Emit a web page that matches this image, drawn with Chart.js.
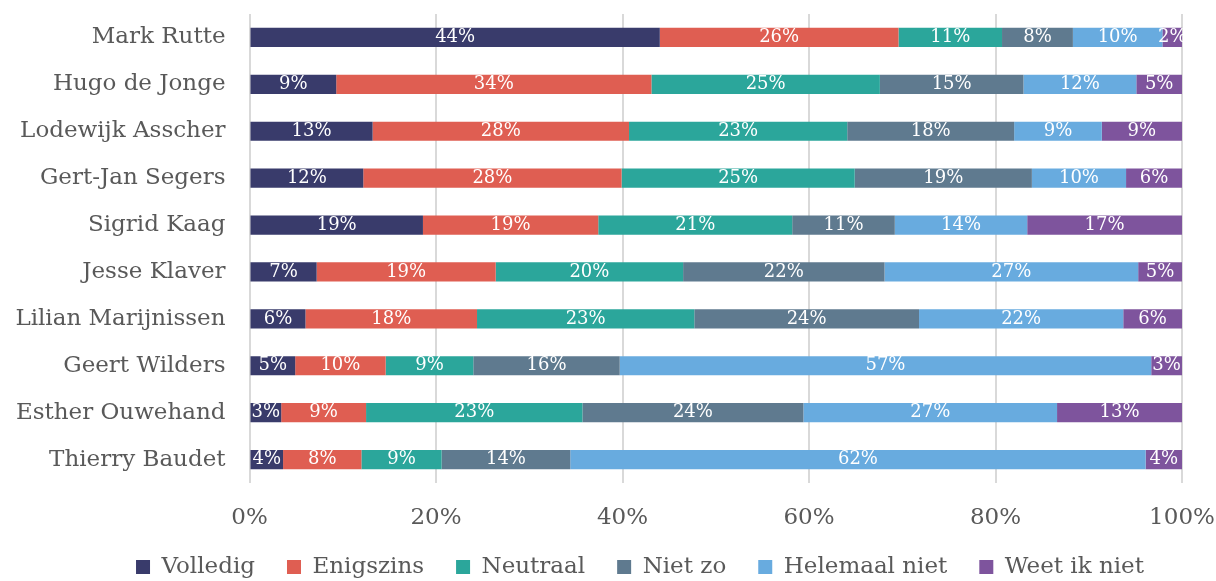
<!DOCTYPE html>
<html>
<head>
<meta charset="utf-8">
<script src="https://cdn.jsdelivr.net/npm/chart.js@4"></script>
<style>
  html, body { margin: 0; padding: 0; background: #ffffff; }
  #wrap { width: 1216px; height: 581px; position: relative; }
</style>
</head>
<body>
<div id="wrap"><canvas id="c" width="1216" height="581"></canvas></div>
<script>
const categories = ['Mark Rutte', 'Hugo de Jonge', 'Lodewijk Asscher', 'Gert-Jan Segers', 'Sigrid Kaag',
  'Jesse Klaver', 'Lilian Marijnissen', 'Geert Wilders', 'Esther Ouwehand', 'Thierry Baudet'];
const seriesNames = ['Volledig', 'Enigszins', 'Neutraal', 'Niet zo', 'Helemaal niet', 'Weet ik niet'];
const volledig     = [44.0,  9.3, 13.2, 12.2, 18.6,  7.2,  6.0,  4.9,  3.4,  3.6];
const enigszins    = [25.6, 33.8, 27.5, 27.7, 18.8, 19.2, 18.4,  9.7,  9.1,  8.4];
const neutraal     = [11.1, 24.5, 23.4, 25.0, 20.8, 20.1, 23.3,  9.4, 23.2,  8.6];
const nietZo       = [ 7.6, 15.4, 17.9, 19.0, 11.0, 21.6, 24.1, 15.7, 23.7, 13.8];
const helemaalNiet = [ 9.6, 12.1,  9.4, 10.1, 14.2, 27.2, 21.9, 57.0, 27.2, 61.7];
const weetIkNiet   = [ 2.1,  4.9,  8.6,  6.0, 16.6,  4.7,  6.3,  3.3, 13.4,  3.9];
const xTicks = [0, 20, 40, 60, 80, 100];

const colors = ['#393b6b', '#df5e52', '#2ba69b', '#5f7a8f', '#68abdf', '#7e549d'];
const seriesData = [volledig, enigszins, neutraal, nietZo, helemaalNiet, weetIkNiet];

const FONT = "'DejaVu Serif', serif";
const GREY = '#595959';
const LEGEND_PAD = 32;
const LEGEND_FONT = 23;

const valueLabels = {
  id: 'valueLabels',
  beforeDraw(chart) {
    // place the legend row so its items sit near the bottom edge, like the reference
    const lg = chart.legend;
    if (lg) {
      const top = 567 - LEGEND_PAD - LEGEND_FONT / 2;
      const h = lg.height;
      lg.top = top;
      lg.bottom = top + h;
      lg.left = 32;
      lg.right = chart.width + 32;
    }
  },
  afterDatasetsDraw(chart) {
    const ctx = chart.ctx;
    ctx.save();
    ctx.fillStyle = '#ffffff';
    ctx.font = "18px " + FONT;
    ctx.textAlign = 'center';
    ctx.textBaseline = 'middle';
    chart.data.datasets.forEach((ds, i) => {
      const meta = chart.getDatasetMeta(i);
      meta.data.forEach((el, j) => {
        const v = ds.data[j];
        const cx = (el.x + el.base) / 2;
        ctx.fillText(Math.round(v) + '%', cx, el.y);
      });
    });
    ctx.restore();
  }
};

new Chart(document.getElementById('c'), {
  type: 'bar',
  data: {
    labels: categories,
    datasets: seriesNames.map((name, i) => ({
      label: name,
      data: seriesData[i],
      backgroundColor: colors[i],
      borderWidth: 0,
      barPercentage: 0.41,
      categoryPercentage: 1.0
    }))
  },
  options: {
    indexAxis: 'y',
    responsive: false,
    animation: false,
    events: [],
    layout: { padding: { top: 14, right: 34, left: 0, bottom: -27 } },
    scales: {
      x: {
        stacked: true,
        min: 0, max: 100,
        afterBuildTicks(scale) { scale.ticks = xTicks.map(v => ({ value: v })); },
        afterFit(scale) { scale.height = 60; scale.paddingLeft = 0; scale.paddingRight = 0; },
        ticks: {
          callback: v => v + '%',
          color: GREY,
          font: { family: FONT, size: 23 },
          padding: 21,
          maxRotation: 0,
          autoSkip: false
        },
        grid: { color: '#d9d9d9', lineWidth: 2, drawTicks: false },
        border: { display: false }
      },
      y: {
        stacked: true,
        afterFit(scale) { scale.width = 249.5; scale.paddingTop = 0; scale.paddingBottom = 0; },
        ticks: {
          color: GREY,
          font: { family: FONT, size: 23 },
          padding: 24
        },
        grid: { display: false, drawTicks: false },
        border: { display: false }
      }
    },
    plugins: {
      legend: {
        position: 'bottom',
        labels: {
          color: GREY,
          font: { family: FONT, size: LEGEND_FONT },
          boxWidth: 14,
          boxHeight: 14,
          padding: LEGEND_PAD
        }
      },
      tooltip: { enabled: false }
    }
  },
  plugins: [valueLabels]
});
</script>
</body>
</html>
